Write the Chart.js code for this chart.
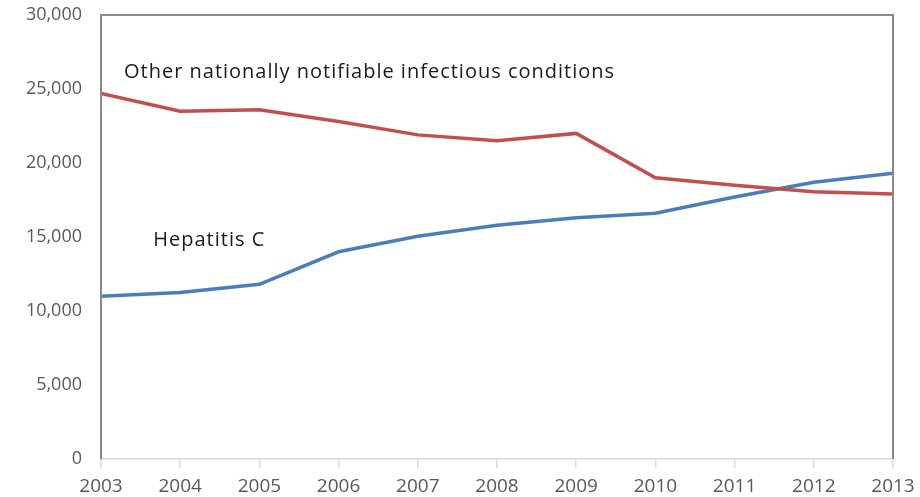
<!DOCTYPE html>
<html>
<head>
<meta charset="utf-8">
<script src="https://cdn.jsdelivr.net/npm/chart.js@4/dist/chart.umd.min.js"></script>
<style>
  html, body { margin: 0; padding: 0; background: #fff; }
  #wrap { width: 920px; height: 497px; position: relative; }
</style>
</head>
<body>
<div id="wrap"><canvas id="chart"></canvas></div>
<script>
const years = [2003, 2004, 2005, 2006, 2007, 2008, 2009, 2010, 2011, 2012, 2013];
const otherConditions = [24700, 23500, 23600, 22800, 21900, 21500, 22000, 19000, 18500, 18050, 17900];
const hepatitisC = [11000, 11250, 11800, 14000, 15050, 15800, 16300, 16600, 17700, 18700, 19300];
const yTicks = [0, 5000, 10000, 15000, 20000, 25000, 30000];

// text labels placed in data units
const annotations = [
  { text: "Other nationally notifiable infectious conditions", x: 2003.29, y: 26100 },
  { text: "Hepatitis C", x: 2003.66, y: 14800 },
];

const labelFont = "'Open Sans', 'Liberation Sans', sans-serif";

const framePlugin = {
  id: "frame",
  afterDatasetsDraw(chart) {
    const { ctx, chartArea, scales } = chart;
    ctx.save();
    ctx.strokeStyle = "#8a8a8a";
    ctx.lineWidth = 2;
    ctx.beginPath();
    ctx.moveTo(chartArea.left, chartArea.bottom);
    ctx.lineTo(chartArea.left, chartArea.top);
    ctx.lineTo(chartArea.right, chartArea.top);
    ctx.lineTo(chartArea.right, chartArea.bottom);
    ctx.stroke();

    ctx.fillStyle = "#1a1a1a";
    ctx.font = "20px " + labelFont;
    ctx.letterSpacing = "1px";
    ctx.textBaseline = "middle";
    ctx.textAlign = "left";
    annotations.forEach((a) => {
      ctx.fillText(a.text, scales.x.getPixelForValue(a.x), scales.y.getPixelForValue(a.y));
    });
    ctx.restore();
  },
};

new Chart(document.getElementById("chart"), {
  type: "line",
  data: {
    datasets: [
      {
        label: "Other nationally notifiable infectious conditions",
        data: years.map((y, i) => ({ x: y, y: otherConditions[i] })),
        borderColor: "#c0504d",
        borderWidth: 3.5,
        pointRadius: 0,
        tension: 0,
      },
      {
        label: "Hepatitis C",
        data: years.map((y, i) => ({ x: y, y: hepatitisC[i] })),
        borderColor: "#4a7ebb",
        borderWidth: 3.5,
        pointRadius: 0,
        tension: 0,
      },
    ],
  },
  options: {
    responsive: true,
    maintainAspectRatio: false,
    animation: false,
    layout: { padding: { top: 15, right: 27, left: 0, bottom: 0 } },
    plugins: {
      legend: { display: false },
      tooltip: { enabled: false },
    },
    scales: {
      x: {
        type: "linear",
        min: 2003,
        max: 2013,
        afterBuildTicks(axis) {
          axis.ticks = years.map((v) => ({ value: v }));
        },
        afterFit(axis) {
          axis.height = 38;
          axis.paddingLeft = 0;
          axis.paddingRight = 0;
        },
        grid: {
          drawOnChartArea: false,
          drawTicks: true,
          tickLength: 9,
          color: "#d9d9d9",
          lineWidth: 1.5,
        },
        border: { color: "#d9d9d9", width: 1.5 },
        ticks: {
          color: "#595959",
          font: { family: labelFont, size: 19 },
          padding: 7,
          maxRotation: 0,
          callback: (v) => String(v),
        },
      },
      y: {
        min: 0,
        max: 30000,
        afterBuildTicks(axis) {
          axis.ticks = yTicks.map((v) => ({ value: v }));
        },
        afterFit(axis) {
          axis.width = 101;
          axis.paddingTop = 0;
          axis.paddingBottom = 0;
        },
        grid: { display: false, drawTicks: false },
        border: { display: false },
        ticks: {
          color: "#595959",
          font: { family: labelFont, size: 18 },
          padding: 19,
          callback: (v) => v.toLocaleString("en-US"),
        },
      },
    },
  },
  plugins: [framePlugin],
});
</script>
</body>
</html>
